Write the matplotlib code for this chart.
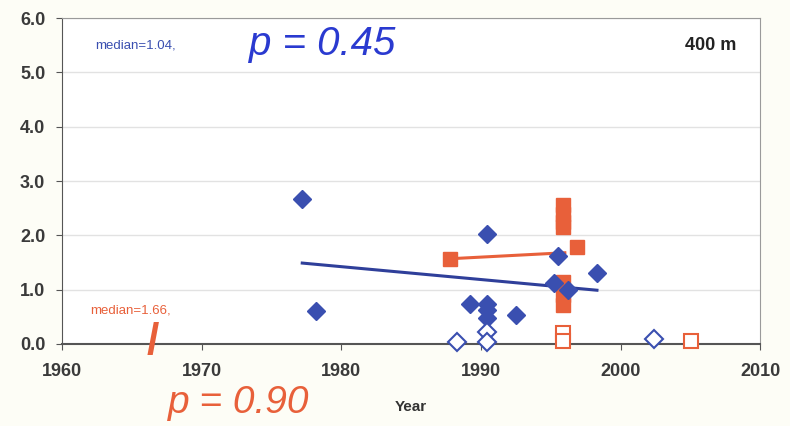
import matplotlib.pyplot as plt

plt.rcParams["font.family"] = ["Liberation Sans", "DejaVu Sans"]

# data
blue_years = [1977.2, 1978.2, 1989.2, 1990.4, 1990.4, 1990.4, 1990.4, 1992.5, 1995.2, 1995.5, 1996.2, 1998.3]
blue_vals = [2.67, 0.61, 0.74, 2.02, 0.74, 0.62, 0.48, 0.53, 1.12, 1.62, 1.00, 1.31]
blue_open_years = [1988.3, 1990.4, 1990.4, 2002.4]
blue_open_vals = [0.03, 0.22, 0.04, 0.10]

red_years = [1987.8, 1995.9, 1995.9, 1995.9, 1995.9, 1996.9, 1995.9, 1995.9, 1995.9]
red_vals = [1.57, 2.55, 2.40, 2.25, 2.15, 1.79, 1.15, 0.90, 0.72]
red_open_years = [1995.9, 1995.9, 2005.0]
red_open_vals = [0.20, 0.05, 0.05]

blue_trend_x = [1977.2, 1998.3]
blue_trend_y = [1.49, 0.99]
red_trend_x = [1987.8, 1996.0]
red_trend_y = [1.57, 1.68]

x_ticks = [1960, 1970, 1980, 1990, 2000, 2010]
y_ticks = [0.0, 1.0, 2.0, 3.0, 4.0, 5.0, 6.0]

blue = "#3a4fb0"
red = "#e8603a"
bg = "#fdfdf6"

fig = plt.figure(figsize=(7.9, 4.26), dpi=100, facecolor=bg)
ax = fig.add_axes([0.0785, 0.1925, 0.884, 0.765], facecolor="white")

for y in y_ticks[1:]:
    ax.axhline(y, color="#e2e2e2", lw=1.0, zorder=0)

ax.plot(blue_trend_x, blue_trend_y, color="#2f3f9a", lw=2.2, zorder=3)
ax.plot(red_trend_x, red_trend_y, color=red, lw=2.2, zorder=3)

ax.plot(red_years, red_vals, "s", color=red, ms=10, mec=red, zorder=4, clip_on=False)
ax.plot(red_open_years, red_open_vals, "s", color="white", ms=10, mec=red, mew=1.5,
        zorder=4, clip_on=False)
ax.plot(blue_years, blue_vals, "D", color=blue, ms=9, mec=blue, zorder=5, clip_on=False)
ax.plot(blue_open_years, blue_open_vals, "D", color="white", ms=9, mec=blue, mew=1.5,
        zorder=5, clip_on=False)

ax.set_xlim(1960, 2010)
ax.set_ylim(0, 6)
ax.set_xticks(x_ticks)
ax.set_yticks(y_ticks)
ax.set_xticklabels([str(t) for t in x_ticks])
ax.set_yticklabels([f"{t:.1f}" for t in y_ticks])
ax.tick_params(axis="both", direction="out", length=4, color="#555555",
               labelsize=13, labelcolor="#3a3a3a")
ax.tick_params(axis="x", pad=10)
ax.tick_params(axis="y", pad=8)
for lab in ax.get_xticklabels() + ax.get_yticklabels():
    lab.set_fontweight("bold")

ax.spines["left"].set_color("#555555")
ax.spines["bottom"].set_color("#555555")
ax.spines["bottom"].set_linewidth(1.5)
ax.spines["top"].set_color("#9a9a9a")
ax.spines["right"].set_color("#9a9a9a")

ax.set_xlabel("Year", fontsize=11, fontweight="bold", color="#333333", labelpad=14)

ax.text(0.965, 0.915, "400 m", transform=ax.transAxes, ha="right", va="center",
        fontsize=13, fontweight="bold", color="#222222")
ax.text(1962.4, 5.5, "median=1.04,", fontsize=9.5, color=blue, ha="left", va="center")
ax.text(1973.4, 5.52, "p = 0.45", fontsize=29, color="#2a3ad0", ha="left", va="center",
        fontstyle="italic")
ax.text(1962.0, 0.62, "median=1.66,", fontsize=9.5, color=red, ha="left", va="center")
fig.text(0.193, 0.197, "/", fontsize=32, color=red, ha="center", va="center",
         fontweight="bold")
fig.text(0.212, 0.055, "p = 0.90", fontsize=28, color=red, ha="left", va="center",
         fontstyle="italic")

fig.savefig("out.png", dpi=100, facecolor=bg)
